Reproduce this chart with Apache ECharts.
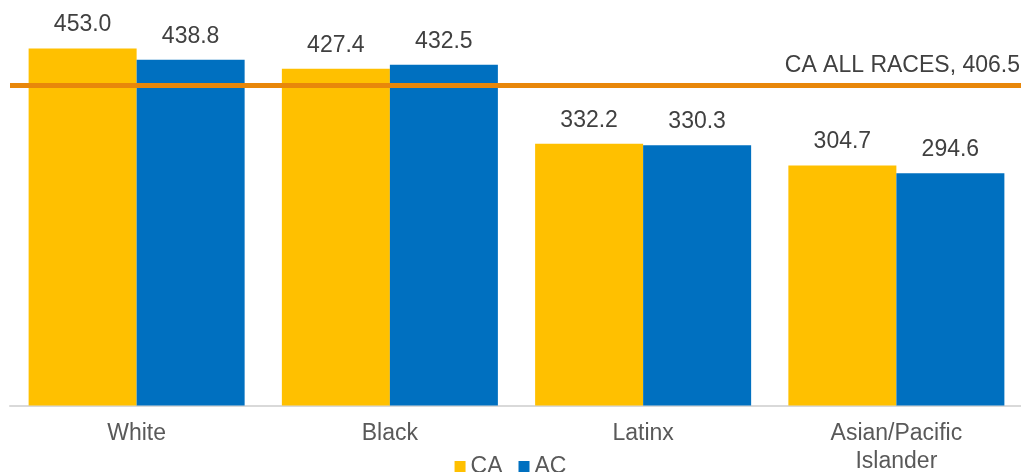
<!DOCTYPE html>
<html>
<head>
<meta charset="utf-8">
<script src="https://cdn.jsdelivr.net/npm/echarts@6/dist/echarts.min.js"></script>
<style>
  html, body { margin: 0; padding: 0; background: #fff; }
  #chart { width: 1021px; height: 472px; }
</style>
</head>
<body>
<div id="chart"></div>
<script>
const categories = ["White", "Black", "Latinx", "Asian/Pacific\nIslander"]
const caValues = [453.0, 427.4, 332.2, 304.7]
const acValues = [438.8, 432.5, 330.3, 294.6]
const allRaces = 406.5

const font = "Liberation Sans, Arial, sans-serif"

let chart = echarts.init(document.getElementById("chart"))

let barLabel = {
  show: true,
  position: "top",
  distance: 12,
  fontFamily: font,
  fontSize: 23,
  color: "#404040",
  formatter: p => p.value.toFixed(1)
}

chart.setOption({
  animation: false,
  grid: { left: 10, width: 1013, top: 11.5, bottom: 66.5, outerBoundsMode: "none", containLabel: false },
  legend: {
    bottom: -11,
    left: "center",
    itemWidth: 11,
    itemHeight: 11,
    itemGap: 16,
    icon: "rect",
    textStyle: { fontFamily: font, fontSize: 23, color: "#595959" },
    data: ["CA", "AC"]
  },
  xAxis: {
    type: "category",
    data: categories,
    axisLine: { lineStyle: { color: "#D9D9D9", width: 2 } },
    axisTick: { show: false },
    axisLabel: {
      fontFamily: font,
      fontSize: 23,
      color: "#595959",
      margin: 14,
      lineHeight: 28
    }
  },
  yAxis: {
    type: "value",
    min: 0,
    max: 500,
    show: false
  },
  series: [
    {
      name: "CA",
      type: "bar",
      data: caValues,
      itemStyle: { color: "#FFC000" },
      barGap: "0%",
      barCategoryGap: "14.7%",
      label: barLabel,
      markLine: {
        silent: true,
        symbol: "none",
        lineStyle: { color: "#E8870A", width: 5, type: "solid" },
        label: {
          position: "insideEndTop",
          fontFamily: font,
          fontSize: 23,
          color: "#404040",
          distance: [3, 8],
          formatter: "CA ALL RACES, " + allRaces.toFixed(1)
        },
        data: [{ yAxis: allRaces }]
      },
      z: 2
    },
    {
      name: "AC",
      type: "bar",
      data: acValues,
      itemStyle: { color: "#0070C0" },
      label: barLabel
    }
  ]
})
</script>
</body>
</html>
